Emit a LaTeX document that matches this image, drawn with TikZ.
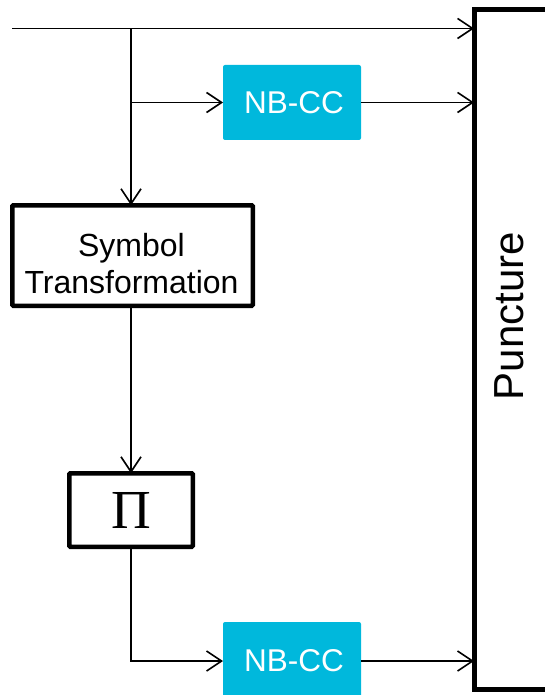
\documentclass[tikz,border=0pt]{standalone}
\usepackage{fontspec}
\setmainfont{Liberation Sans}
\newfontfamily\serifpi{Liberation Serif}
\usetikzlibrary{arrows.meta}
\definecolor{nbcyan}{RGB}{0,184,220}
\begin{document}
\begin{tikzpicture}[x=1pt,y=-1pt,
  thinline/.style={line width=1.6pt},
  arr/.style={thinline,-{Straight Barb[length=15pt,width=20pt,line width=1.6pt]}},
  blockbox/.style={draw,line width=4.5pt,inner sep=0pt,outer sep=0pt,fill=white,rounded corners=1pt},
  nbcc/.style={fill=nbcyan,rounded corners=2pt,minimum width=138pt,inner sep=0pt,outer sep=0pt,
    text=white,font=\fontsize{31.5}{37}\selectfont},
]
\useasboundingbox (0,0) rectangle (545,695);
% Puncture block (right edge lies outside the picture)
\node[draw,line width=5pt,minimum width=150pt,minimum height=680pt,inner sep=0pt,outer sep=0pt,
  anchor=north west] (punct) at (474,9.5) {};
\node[rotate=90,font=\fontsize{42}{50}\selectfont] (plabel) at (509,316) {Puncture};
% blocks
\node[nbcc,minimum height=75pt] (nb1) at (292,102.5) {\hspace{4pt}NB-CC};
\node[blockbox,minimum width=240.5pt,minimum height=100.5pt] (st) at (132.5,255.5) {};
\node[align=center,font=\fontsize{32}{37}\selectfont,inner sep=0pt] (sttext) at (131.5,264)
  {Symbol\\Transformation};
\node[blockbox,minimum width=123.5pt,minimum height=73.5pt,font=\serifpi\fontsize{55}{60}\selectfont]
  (pi) at (131,510) {Π};
\node[nbcc,minimum height=78pt] (nb2) at (292,661) {\hspace{4pt}NB-CC};
% connectors
\coordinate (start) at (12,28.5);
\coordinate (split) at (131,28.5);
\coordinate (split2) at (131,102.5);
\draw[arr] (start) -- (start -| punct.west);
\draw[arr] (split) -- (split |- st.north);
\draw[arr] (split2) -- (nb1.west);
\draw[arr] (nb1.east) -- (nb1.east -| punct.west);
\draw[arr] (st.south -| pi.north) -- (pi.north);
\draw[arr] (pi.south) |- (nb2.west);
\draw[arr] (nb2.east) -- (nb2.east -| punct.west);
\end{tikzpicture}
\end{document}
